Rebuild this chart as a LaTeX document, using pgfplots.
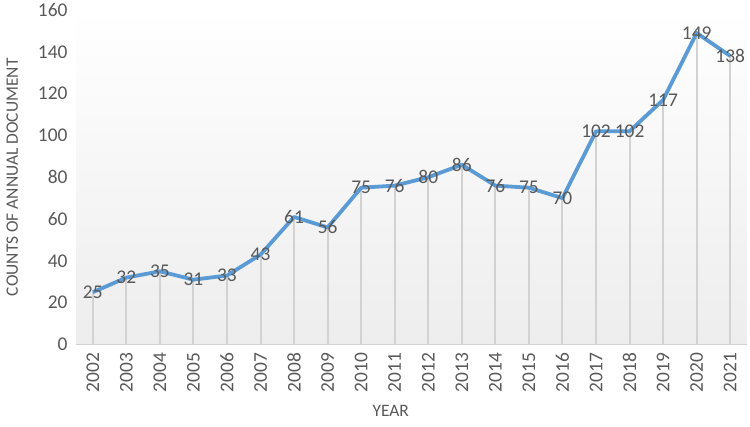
\documentclass[border=0pt]{standalone}
\usepackage{pgfplots}
\pgfplotsset{compat=1.18}
\usepackage{fontspec}
\setmainfont{Carlito}
\definecolor{txt}{RGB}{89,89,89}
\definecolor{ln}{RGB}{91,155,213}
\definecolor{drop}{RGB}{210,210,210}
\pgfplotstableread{
x y
0 25
1 32
2 35
3 31
4 33
5 43
6 61
7 56
8 75
9 76
10 80
11 86
12 76
13 75
14 70
15 102
16 102
17 117
18 149
19 138
}\datatable
\begin{document}
\begin{tikzpicture}[x=1bp,y=1bp]
\useasboundingbox (0,0) rectangle (750,426);
\begin{axis}[
  at={(76bp,81.5bp)}, anchor=south west,
  scale only axis, width=671bp, height=334.5bp,
  xmin=-0.5, xmax=19.5, ymin=0, ymax=160,
  separate axis lines,
  axis x line*=bottom, axis y line*=left,
  x axis line style={draw=drop, line width=1.5bp, -},
  y axis line style={draw=none},
  major tick length=0pt,
  axis background/.style={top color=white, bottom color=black!7},
  ytick={0,20,...,160},
  xtick={0,...,19},
  xticklabels={2002,2003,2004,2005,2006,2007,2008,2009,2010,2011,2012,2013,2014,2015,2016,2017,2018,2019,2020,2021},
  x tick label style={rotate=90, anchor=east, font=\fontsize{19.5}{19.5}\selectfont, text=txt},
  y tick label style={font=\fontsize{19.5}{19.5}\selectfont, text=txt},
  xticklabel shift=5bp,
  yticklabel shift=5bp,
  /pgf/number format/assume math mode=true,
  xlabel={YEAR}, ylabel={COUNTS OF ANNUAL DOCUMENT},
  xlabel style={at={(axis description cs:0.469,-0.2)}, anchor=center, font=\fontsize{17.5}{17.5}\selectfont, text=txt},
  ylabel style={at={(axis description cs:-0.095,0.5)}, rotate=0, anchor=center, font=\fontsize{17.5}{17.5}\selectfont, text=txt},
  clip=false,
]
\addplot[ycomb, draw=drop, line width=2bp, mark=none] table[x=x,y=y]{\datatable};
\addplot[color=ln, line width=3.8bp, line join=round, mark=none,
  nodes near coords, point meta=explicit symbolic,
  every node near coord/.style={anchor=center, font=\fontsize{19.5}{19.5}\selectfont, text=txt, inner sep=0pt}]
  table[x=x,y=y,meta=y]{\datatable};
\end{axis}
\end{tikzpicture}
\end{document}
